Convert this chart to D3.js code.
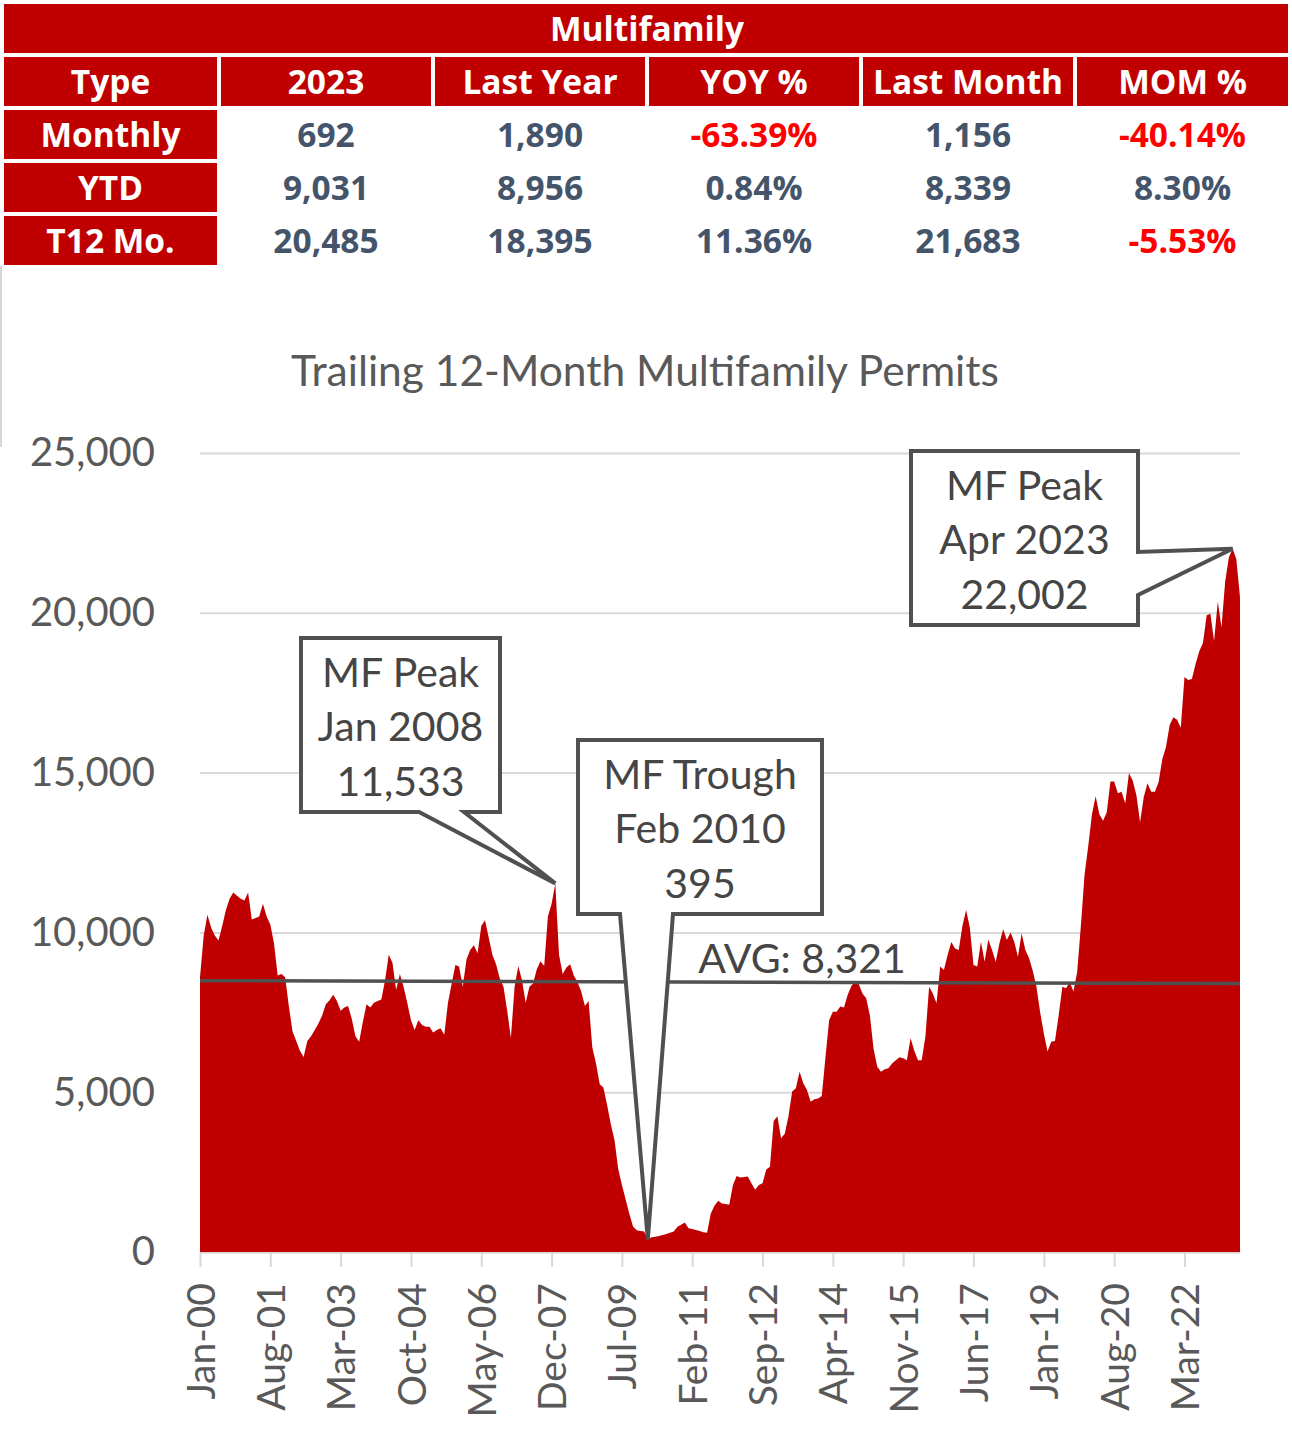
<!DOCTYPE html>
<html>
<head>
<meta charset="utf-8">
<script src="https://cdn.jsdelivr.net/npm/d3@7"></script>
<style>
  body { margin: 0; background: #fff; }
  svg { display: block; }
</style>
</head>
<body>
<div id="chart"></div>
<script>
// ---- summary table ----
var tableTitle = "Multifamily";
var tableColumns = ["Type", "2023", "Last Year", "YOY %", "Last Month", "MOM %"];
var rowTypes = ["Monthly", "YTD", "T12 Mo."];
var current = [692, 9031, 20485];
var lastYear = [1890, 8956, 18395];
var yoyPct = [-63.39, 0.84, 11.36];
var lastMonth = [1156, 8339, 21683];
var momPct = [-40.14, 8.30, -5.53];

// ---- trailing 12-month permits, monthly from Jan 2000 ----
var chartTitle = "Trailing 12-Month Multifamily Permits";
var startMonth = new Date(2000, 0, 1);
var t12Permits = [
  8600, 9900, 10550, 10150, 9900, 9750, 10200, 10700, 11050, 11250, 11150, 11050,   // 2000
  11000, 11250, 10400, 10450, 10500, 10900, 10500, 10250, 9650, 8650, 8700, 8600,   // 2001
  7700, 6900, 6600, 6300, 6100, 6600, 6750, 6950, 7150, 7400, 7750, 7880,           // 2002
  8050, 7850, 7550, 7650, 7700, 7300, 6750, 6580, 7200, 7750, 7650, 7800,           // 2003
  7850, 7900, 8500, 9300, 9050, 8200, 8700, 8300, 7800, 7250, 6950, 7250,           // 2004
  7100, 7050, 7050, 6870, 6950, 7000, 6800, 7800, 8400, 8980, 8930, 8300,           // 2005
  9150, 9450, 9600, 9350, 10200, 10380, 9850, 9300, 9000, 8550, 8300, 7550,         // 2006
  6700, 8300, 8950, 8500, 7800, 8300, 8400, 8850, 9100, 8950, 10500, 10900,         // 2007
  11533, 9300, 8700, 8900, 9000, 8650, 8450, 8150, 7700, 7850, 6400, 5900,          // 2008
  5250, 5150, 4600, 4000, 3500, 2600, 2100, 1650, 1200, 800, 680, 660,              // 2009
  640, 395, 460, 480, 500, 530, 560, 600, 640, 790, 850, 920,                       // 2010
  740, 720, 690, 660, 620, 600, 1200, 1450, 1600, 1520, 1500, 1480,                 // 2011
  2100, 2380, 2330, 2350, 2360, 2150, 1950, 2100, 2150, 2580, 2670, 4100,           // 2012
  4250, 3560, 3700, 4250, 5020, 5120, 5640, 5280, 5070, 4700, 4780, 4800,           // 2013
  4880, 6100, 7260, 7520, 7520, 7680, 7650, 8050, 8320, 8460, 8380, 8090,           // 2014
  7940, 7400, 6350, 5800, 5640, 5720, 5750, 5900, 6000, 6090, 6060, 6000,           // 2015
  6690, 6300, 6000, 6000, 6740, 8300, 8090, 7780, 8930, 8820, 9290, 9700,           // 2016
  9500, 9450, 10200, 10700, 10150, 8980, 8930, 9710, 9080, 9780, 9450, 9080,        // 2017
  9660, 10100, 9760, 10000, 9710, 9240, 9970, 9450, 9200, 8800, 8300, 7500,         // 2018
  6840, 6270, 6580, 6600, 7400, 8300, 8250, 8450, 8150, 8750, 10200, 11800,         // 2019
  12700, 13700, 14260, 13700, 13490, 13760, 14720, 14720, 14350, 14400, 14030, 14990, // 2020
  14750, 14300, 13450, 14240, 14670, 14400, 14400, 14700, 15420, 15800, 16490, 16730, // 2021
  16650, 16400, 17990, 17900, 17930, 18395, 18800, 19060, 19920, 19970, 19120, 20350, // 2022
  19550, 20990, 21740, 22002, 21683, 20485                                          // 2023
];
var yTicks = [0, 5000, 10000, 15000, 20000, 25000];
var tickStep = 19;
var xTickLabels = ["Jan-00", "Aug-01", "Mar-03", "Oct-04", "May-06", "Dec-07", "Jul-09",
  "Feb-11", "Sep-12", "Apr-14", "Nov-15", "Jun-17", "Jan-19", "Aug-20", "Mar-22"];
var avgValue = 8321;
var avgLineEnds = [8490, 8400];   // the drawn line drifts slightly in the original

// callouts: which month each points at
var calloutTitles = ["MF Peak", "MF Trough", "MF Peak"];
var calloutMonths = [96, 121, 279];

// ---- layout ----
var W = 1292, H = 1429;
var red = "#C00000", slate = "#44546A", grey = "#595959", ink = "#454545";
var plot = {left: 200, right: 1240, top: 453, bottom: 1252};

// box [x0, y0, x1, y1], pointer side and its two base points
var calloutLayout = [
  {box: [301, 638, 500, 812], side: "bottom", base: [419, 464]},
  {box: [578, 740, 822, 914], side: "bottom", base: [620, 673]},
  {box: [911, 451, 1138, 625], side: "right", base: [552, 595]}
];

var svg = d3.select("#chart").append("svg")
  .attr("width", W)
  .attr("height", H);

// ---- table ----
var colEdges = [[4, 217], [221, 431], [435, 645], [649, 859], [863, 1073], [1077, 1288]];
var rowY = [57, 110, 163, 216];
var rowH = 49;
var tFont = "'Open Sans', 'DejaVu Sans', sans-serif";
var tSize = 33.5;
var cx = i => (colEdges[i][0] + colEdges[i][1]) / 2;

svg.append("rect")
  .attr("x", 4).attr("y", 4)
  .attr("width", 1284).attr("height", 49)
  .attr("fill", red);
svg.append("text")
  .attr("x", 647).attr("y", 29)
  .attr("dy", "0.36em")
  .attr("text-anchor", "middle")
  .attr("font-family", tFont).attr("font-weight", 700).attr("font-size", tSize)
  .attr("fill", "#fff")
  .text(tableTitle);

svg.selectAll(".hcell")
  .data(tableColumns)
  .enter().append("rect")
  .attr("class", "hcell")
  .attr("x", (d, i) => colEdges[i][0]).attr("y", rowY[0])
  .attr("width", (d, i) => colEdges[i][1] - colEdges[i][0]).attr("height", rowH)
  .attr("fill", red);
svg.selectAll(".htext")
  .data(tableColumns)
  .enter().append("text")
  .attr("class", "htext")
  .attr("x", (d, i) => cx(i)).attr("y", rowY[0] + rowH / 2)
  .attr("dy", "0.36em")
  .attr("text-anchor", "middle")
  .attr("font-family", tFont).attr("font-weight", 700).attr("font-size", tSize)
  .attr("fill", "#fff")
  .text(d => d);

var fmtNum = d3.format(",");
var fmtPct = d => d.toFixed(2) + "%";
var tableRows = rowTypes.map((t, i) => [
  {v: t, head: true},
  {v: fmtNum(current[i])},
  {v: fmtNum(lastYear[i])},
  {v: fmtPct(yoyPct[i]), neg: yoyPct[i] < 0},
  {v: fmtNum(lastMonth[i])},
  {v: fmtPct(momPct[i]), neg: momPct[i] < 0}
]);

var rows = svg.selectAll(".trow")
  .data(tableRows)
  .enter().append("g")
  .attr("class", "trow")
  .attr("transform", (d, i) => "translate(0," + rowY[i + 1] + ")");

rows.selectAll("rect")
  .data(d => d.filter(c => c.head))
  .enter().append("rect")
  .attr("x", colEdges[0][0]).attr("y", 0)
  .attr("width", colEdges[0][1] - colEdges[0][0]).attr("height", rowH)
  .attr("fill", red);

rows.selectAll("text")
  .data(d => d)
  .enter().append("text")
  .attr("x", (d, i) => cx(i))
  .attr("y", rowH / 2)
  .attr("dy", "0.36em")
  .attr("text-anchor", "middle")
  .attr("font-family", tFont).attr("font-weight", 700).attr("font-size", tSize)
  .attr("fill", d => d.head ? "#fff" : (d.neg ? "#FF0000" : slate))
  .text(d => d.v);

// faint edge left over from the source image
svg.append("line")
  .attr("x1", 1).attr("x2", 1)
  .attr("y1", 266).attr("y2", 447)
  .attr("stroke", "#C8C8C8").attr("stroke-width", 1.5);

// ---- chart ----
var cFont = "Lato, 'Open Sans', sans-serif";

svg.append("text")
  .attr("x", 645).attr("y", 371)
  .attr("dy", "0.36em")
  .attr("text-anchor", "middle")
  .attr("font-family", cFont).attr("font-size", 42.5)
  .attr("fill", grey)
  .text(chartTitle);

var x = d3.scaleLinear()
  .domain([0, t12Permits.length - 1])
  .range([plot.left, plot.right]);

var y = d3.scaleLinear()
  .domain([0, 25000])
  .range([plot.bottom, plot.top]);

// gridlines + y labels
var yAxis = svg.append("g")
  .attr("transform", "translate(" + plot.left + ",0)")
  .call(d3.axisLeft(y)
    .tickValues(yTicks)
    .tickFormat(d3.format(","))
    .tickSize(-(plot.right - plot.left))
    .tickPadding(45));
yAxis.select(".domain").remove();
yAxis.selectAll(".tick line")
  .attr("stroke", "#D9D9D9").attr("stroke-width", 2);
yAxis.selectAll(".tick text")
  .attr("font-family", cFont).attr("font-size", 40)
  .attr("fill", grey);

// x axis
var xAxis = svg.append("g")
  .attr("transform", "translate(0," + plot.bottom + ")")
  .call(d3.axisBottom(x)
    .tickValues(xTickLabels.map((d, i) => i * tickStep))
    .tickFormat(d => xTickLabels[d / tickStep])
    .tickSizeInner(15)
    .tickSizeOuter(0));
xAxis.select(".domain").attr("stroke", "#D9D9D9").attr("stroke-width", 2);
xAxis.selectAll(".tick line").attr("stroke", "#D9D9D9").attr("stroke-width", 2);
xAxis.selectAll(".tick text")
  .attr("font-family", cFont).attr("font-size", 39)
  .attr("fill", grey)
  .attr("transform", "rotate(-90)")
  .attr("text-anchor", "end")
  .attr("x", -31)
  .attr("y", 0)
  .attr("dy", "0.36em");

// area
var area = d3.area()
  .x((d, i) => x(i))
  .y0(y(0))
  .y1(d => y(d));

svg.append("path")
  .datum(t12Permits)
  .attr("fill", red)
  .attr("d", area);

// average line
svg.append("line")
  .attr("x1", x(0)).attr("y1", y(avgLineEnds[0]))
  .attr("x2", x(t12Permits.length - 1)).attr("y2", y(avgLineEnds[1]))
  .attr("stroke", "#505050").attr("stroke-width", 3.5);

svg.append("text")
  .attr("x", 802).attr("y", 958)
  .attr("dy", "0.36em")
  .attr("text-anchor", "middle")
  .attr("font-family", cFont).attr("font-size", 41)
  .attr("fill", ink)
  .text("AVG: " + fmtNum(avgValue));

// callouts
var fmtMonth = d3.timeFormat("%b %Y");

calloutMonths.forEach(function(m, i) {
  var L = calloutLayout[i];
  var b = L.box;
  var tip = [x(m), y(t12Permits[m])];
  var p = d3.path();
  p.moveTo(b[0], b[1]);
  p.lineTo(b[2], b[1]);
  if (L.side === "right") {
    p.lineTo(b[2], L.base[0]);
    p.lineTo(tip[0], tip[1]);
    p.lineTo(b[2], L.base[1]);
    p.lineTo(b[2], b[3]);
    p.lineTo(b[0], b[3]);
  } else {
    p.lineTo(b[2], b[3]);
    p.lineTo(L.base[1], b[3]);
    p.lineTo(tip[0], tip[1]);
    p.lineTo(L.base[0], b[3]);
    p.lineTo(b[0], b[3]);
  }
  p.closePath();

  var g = svg.append("g").attr("class", "callout");
  g.append("path")
    .attr("d", p.toString())
    .attr("fill", "#fff")
    .attr("stroke", "#505050")
    .attr("stroke-width", 4)
    .attr("stroke-linejoin", "miter");

  var lines = [calloutTitles[i], fmtMonth(d3.timeMonth.offset(startMonth, m)), fmtNum(t12Permits[m])];
  g.selectAll("text")
    .data(lines)
    .enter().append("text")
    .attr("x", (b[0] + b[2]) / 2)
    .attr("y", (d, j) => b[1] + 34 + j * 54.5)
    .attr("dy", "0.36em")
    .attr("text-anchor", "middle")
    .attr("font-family", cFont).attr("font-size", 41)
    .attr("fill", ink)
    .text(d => d);
});
</script>
</body>
</html>
